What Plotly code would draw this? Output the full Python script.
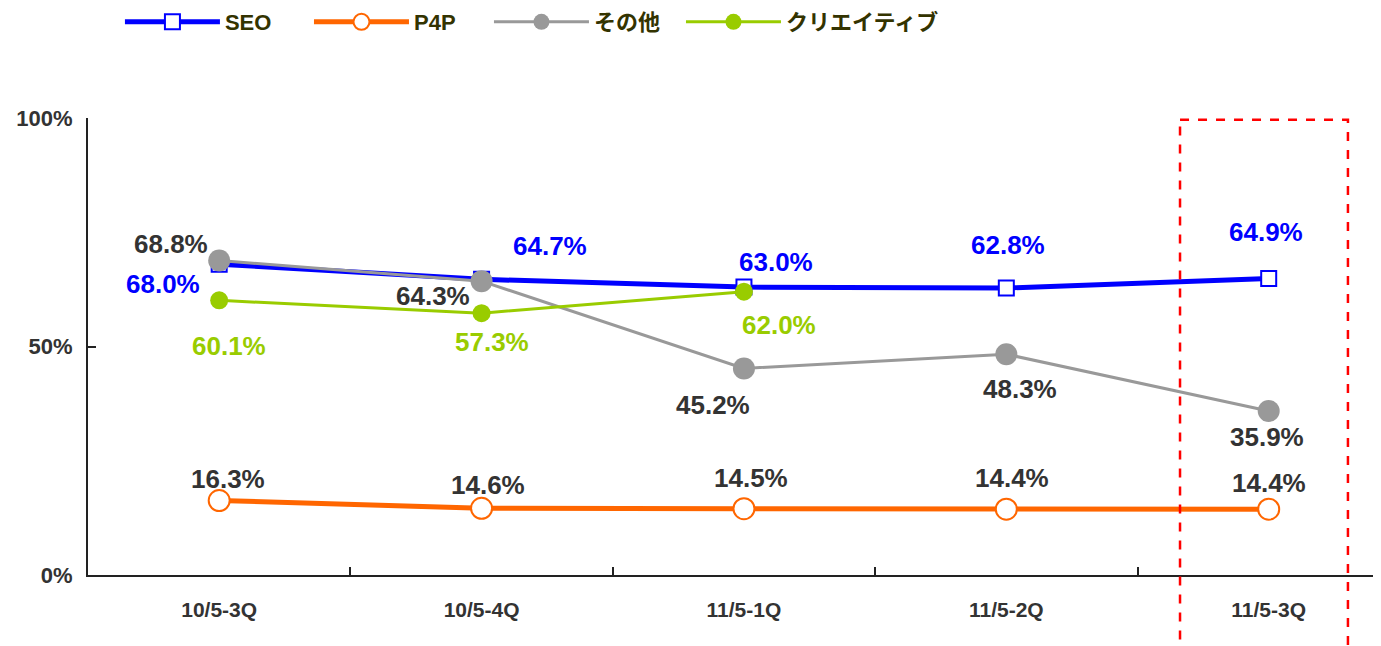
import plotly.graph_objects as go

categories = ["10/5-3Q", "10/5-4Q", "11/5-1Q", "11/5-2Q", "11/5-3Q"]
seo = [68.0, 64.7, 63.0, 62.8, 64.9]
p4p = [16.3, 14.6, 14.5, 14.4, 14.4]
other = [68.8, 64.3, 45.2, 48.3, 35.9]
creative = [60.1, 57.3, 62.0, None, None]
y_ticks = [0, 50, 100]
y_tick_labels = ["0%", "50%", "100%"]

# label pixel offsets (dx, dy) relative to each point
seo_off = [(-56, -20), (68, 33), (32, 25), (2, 43), (-3, 46)]
p4p_off = [(9, 22), (6, 23), (7, 31), (6, 31), (0, 26)]
other_off = [(-48, 17), (-49, -15), (-31, -37), (14, -35), (-2, -26)]
creative_off = [(10, -46), (10, -29), (35, -33), None, None]

FONT = "Liberation Sans, Arial, Noto Sans CJK JP, sans-serif"
BLUE = "#0000FF"
ORANGE = "#FF6600"
GRAY = "#999999"
GREEN = "#99CC00"
DARK = "#333333"

fig = go.Figure()
fig.add_trace(go.Scatter(
    x=categories, y=seo, name="SEO", mode="lines+markers", legend="legend",
    line=dict(color=BLUE, width=5),
    marker=dict(symbol="square", size=15, color="white", line=dict(color=BLUE, width=2)),
))
fig.add_trace(go.Scatter(
    x=categories, y=p4p, name="P4P", mode="lines+markers", legend="legend2",
    line=dict(color=ORANGE, width=5),
    marker=dict(symbol="circle", size=21, color="white", line=dict(color=ORANGE, width=2)),
))
fig.add_trace(go.Scatter(
    x=categories, y=other, name="その他", mode="lines+markers", legend="legend3",
    line=dict(color=GRAY, width=3),
    marker=dict(symbol="circle", size=22, color=GRAY),
))
fig.add_trace(go.Scatter(
    x=categories, y=creative, name="クリエイティブ", mode="lines+markers", legend="legend4",
    line=dict(color=GREEN, width=3),
    marker=dict(symbol="circle", size=18, color=GREEN),
))

annotations = []
def add_labels(vals, offs, color):
    for i, (v, o) in enumerate(zip(vals, offs)):
        if v is None or o is None:
            continue
        annotations.append(dict(
            x=categories[i], y=v, xref="x", yref="y", text=f"{v:.1f}%", showarrow=False,
            xshift=o[0], yshift=o[1],
            font=dict(family=FONT, size=26, color=color, weight="bold"),
        ))

add_labels(seo, seo_off, BLUE)
add_labels(p4p, p4p_off, DARK)
add_labels(other, other_off, DARK)
add_labels(creative, creative_off, GREEN)

def legend_style(xpos):
    return dict(
        orientation="h", x=xpos, y=1.21, xanchor="left", yanchor="middle",
        font=dict(family=FONT, size=22, color="#333300", weight="bold"),
        itemwidth=95,
        bgcolor="rgba(0,0,0,0)",
    )

fig.update_layout(
    width=1373, height=638,
    margin=dict(l=80, r=0, t=110, b=71, autoexpand=False),
    paper_bgcolor="white", plot_bgcolor="white",
    font=dict(family=FONT, color=DARK),
    annotations=annotations,
    showlegend=True,
    legend=legend_style(0.0247),
    legend2=legend_style(0.1709),
    legend3=legend_style(0.3101),
    legend4=legend_style(0.4586),
    xaxis=dict(
        type="category",
        range=[-0.5, 4.428],
        tickson="boundaries", ticks="inside", ticklen=8, tickwidth=2, tickcolor="#222222",
        showline=True, linecolor="#222222", linewidth=2, showgrid=False, zeroline=False,
        tickfont=dict(family=FONT, size=21, color=DARK, weight="bold"),
        ticklabelstandoff=15,
        fixedrange=True,
    ),
    yaxis=dict(
        range=[0, 100], tickmode="array", tickvals=y_ticks, ticktext=y_tick_labels,
        ticks="inside", ticklen=8, tickwidth=2, tickcolor="#222222",
        showline=True, linecolor="#222222", linewidth=2, showgrid=False, zeroline=False,
        tickfont=dict(family=FONT, size=22, color=DARK, weight="bold"),
        ticklabelstandoff=9,
        fixedrange=True,
    ),
    shapes=[dict(
        type="rect", xref="x", yref="paper", x0=3.662, x1=4.302, y0=0.996, y1=-0.17,
        line=dict(color="#FF0000", width=2.5, dash="dash"), fillcolor="rgba(0,0,0,0)",
        layer="above",
    )],
)

fig.write_html("out.html", config={"displayModeBar": False})
